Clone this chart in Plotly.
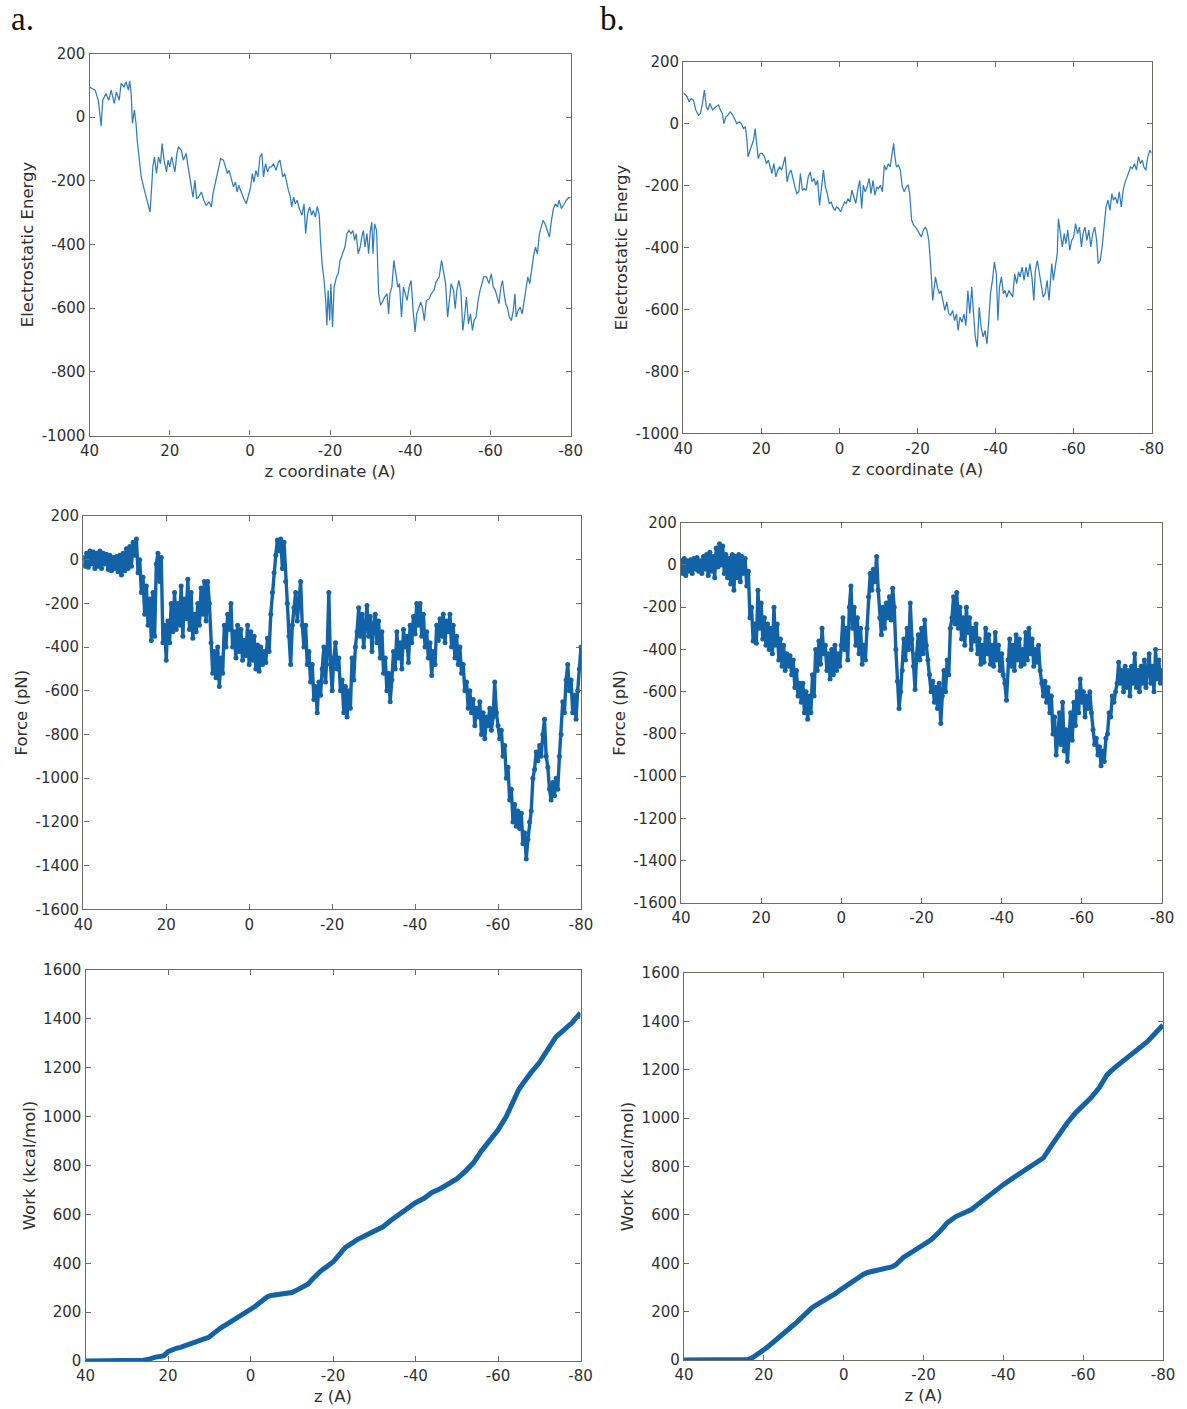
import plotly.graph_objects as go

FIG_W, FIG_H = 1187, 1409

# ---------------------------------------------------------------- data
z_ticks = [40, 20, 0, -20, -40, -60, -80]
energy_ticks = [200, 0, -200, -400, -600, -800, -1000]
force_ticks = [200, 0, -200, -400, -600, -800, -1000, -1200, -1400, -1600]
work_ticks = [0, 200, 400, 600, 800, 1000, 1200, 1400, 1600]

# electrostatic energy along z, run a
elec_a_z = [40.0, 38.6, 37.8, 37.1, 36.7, 35.9, 35.2, 34.6, 33.8, 33.3,
            32.6, 32.1, 31.4, 30.9, 30.3, 30.0, 29.6, 29.3, 28.8, 28.4,
            28.1, 27.6, 27.1, 26.3, 25.7, 24.9, 24.5, 24.2, 23.8, 23.3,
            22.8, 22.3, 21.9, 21.4, 20.8, 20.4, 20.0, 19.5, 18.7, 18.2,
            17.8, 17.1, 16.6, 15.9, 15.4, 14.7, 14.2, 13.7, 13.3, 12.8,
            12.1, 11.5, 10.9, 10.2, 9.6, 9.2, 8.7, 8.0, 7.3, 6.6,
            6.1, 5.6, 5.2, 4.6, 4.1, 3.6, 3.2, 2.8, 2.1, 1.5,
            0.9, 0.4, -0.2, -0.6, -1.0, -1.5, -2.0, -2.5, -3.0, -3.4,
            -3.9, -4.4, -4.9, -5.4, -5.9, -6.5, -7.1, -7.5, -8.2, -8.7,
            -9.2, -9.6, -10.1, -10.4, -10.9, -11.3, -11.8, -12.3, -13.0, -13.5,
            -13.9, -14.4, -14.9, -15.4, -15.8, -16.3, -16.8, -17.3, -17.6, -18.0,
            -18.5, -18.9, -19.2, -19.5, -19.9, -20.2, -20.6, -21.0, -21.6, -22.0,
            -22.5, -23.2, -23.7, -24.2, -24.7, -25.2, -25.7, -26.1, -26.5, -27.0,
            -27.5, -27.9, -28.3, -28.7, -29.2, -29.6, -30.0, -30.4, -30.7, -31.1,
            -31.6, -32.1, -32.6, -33.0, -33.6, -34.2, -34.6, -34.9, -35.4, -35.9,
            -36.4, -36.9, -37.3, -37.8, -38.3, -38.8, -39.2, -39.7, -40.2, -40.7,
            -41.2, -41.6, -42.1, -42.6, -43.0, -43.5, -44.0, -44.7, -45.2, -45.9,
            -46.4, -47.2, -47.8, -48.3, -48.8, -49.3, -49.7, -50.2, -50.8, -51.2,
            -51.6, -52.1, -52.6, -53.1, -53.6, -54.0, -54.5, -55.0, -55.5, -55.9,
            -56.4, -56.9, -57.4, -57.9, -58.3, -59.0, -59.6, -60.2, -60.7, -61.2,
            -61.7, -62.1, -62.6, -63.0, -63.4, -63.8, -64.2, -64.7, -65.2, -65.7,
            -66.1, -66.4, -66.9, -67.4, -67.9, -68.4, -68.8, -69.3, -69.8, -70.3,
            -70.7, -71.2, -71.7, -72.2, -72.6, -73.1, -73.6, -74.1, -74.7, -75.2,
            -75.7, -76.2, -76.7, -77.1, -77.7, -78.4, -78.9, -79.5, -80.0]
elec_a_e = [95, 85, 53, -28, 53, 74, 53, 85, 43, 79,
            53, 106, 95, 111, 85, 114, 74, -20, 22, -20,
            -73, -135, -188, -230, -261, -298, -219, -156, -125, -177,
            -125, -146, -83, -135, -172, -135, -156, -125, -172, -114,
            -93, -104, -135, -114, -156, -219, -251, -198, -256, -251,
            -235, -261, -277, -266, -282, -240, -209, -177, -130, -135,
            -156, -177, -167, -198, -219, -204, -235, -214, -240, -256,
            -272, -245, -219, -177, -204, -167, -188, -125, -114, -188,
            -146, -172, -156, -156, -146, -167, -141, -135, -188, -177,
            -214, -230, -251, -282, -251, -272, -261, -287, -308, -272,
            -366, -303, -282, -308, -293, -314, -280, -308, -387, -460,
            -513, -576, -654, -544, -639, -523, -660, -534, -502, -492,
            -450, -429, -408, -366, -356, -366, -356, -387, -366, -429,
            -408, -377, -356, -408, -366, -429, -361, -330, -429, -335,
            -356, -555, -591, -581, -565, -555, -618, -555, -534, -450,
            -492, -534, -523, -628, -534, -555, -576, -534, -513, -607,
            -675, -618, -597, -581, -597, -639, -576, -571, -555, -544,
            -518, -502, -450, -481, -523, -628, -576, -523, -544, -602,
            -544, -513, -544, -670, -618, -565, -649, -618, -670, -639,
            -628, -576, -544, -523, -502, -502, -523, -492, -534, -544,
            -565, -586, -534, -513, -555, -586, -597, -628, -639, -607,
            -555, -628, -607, -597, -618, -576, -555, -502, -523, -471,
            -439, -408, -429, -366, -345, -324, -335, -356, -377, -324,
            -287, -272, -282, -261, -287, -272, -261, -253, -253]

# electrostatic energy along z, run b
elec_b_z = [40.0,
            39.8, 39.0, 38.5, 38.0, 37.4, 36.8, 36.1, 35.6, 35.1, 34.6,
            34.1, 33.7, 33.2, 32.5, 31.7, 31.0, 30.5, 30.0, 29.6, 29.1,
            28.6, 28.0, 27.3, 26.8, 26.3, 25.7, 25.1, 24.6, 24.1, 23.7,
            23.4, 22.9, 22.4, 22.0, 21.6, 21.2, 20.8, 20.3, 19.8, 19.2,
            18.7, 18.2, 17.8, 17.3, 16.8, 16.3, 15.8, 15.3, 14.8, 14.3,
            13.9, 13.4, 12.9, 12.4, 11.9, 11.4, 10.9, 10.4, 10.0, 9.5,
            9.0, 8.5, 8.0, 7.5, 7.0, 6.5, 6.05, 5.6, 5.1, 4.6,
            4.1, 3.6, 3.1, 2.6, 2.1, 1.7, 1.2, 0.7, 0.2, -0.3,
            -0.8, -1.3, -1.75, -2.2, -2.7, -3.2, -3.7, -4.2, -4.7, -5.2,
            -5.7, -6.1, -6.6, -7.1, -7.6, -8.1, -8.6, -9.1, -9.6, -10.0,
            -10.5, -11.0, -11.5, -12.0, -12.5, -13.0, -13.5, -13.9, -14.1, -14.6,
            -15.1, -15.6, -16.1, -16.6, -17.1, -17.6, -18.0, -18.5, -19.0, -19.5,
            -20.0, -20.5, -21.0, -21.5, -22.0, -22.4, -22.9, -23.4, -23.9, -24.2,
            -24.6, -25.1, -25.6, -26.0, -26.5, -27.0, -27.5, -28.0, -28.5, -29.0,
            -29.5, -30.0, -30.4, -30.9, -31.4, -31.9, -32.4, -32.9, -33.4, -33.9,
            -34.3, -34.8, -35.3, -35.8, -36.3, -36.8, -37.3, -37.8, -38.2, -38.7,
            -39.2, -39.7, -40.2, -40.6, -41.0, -41.5, -42.0, -42.4, -42.9, -43.4,
            -43.9, -44.4, -44.9, -45.4, -45.9, -46.3, -46.8, -47.3, -47.8, -48.3,
            -48.8, -49.3, -49.8, -50.2, -50.7, -51.2, -51.7, -52.2, -52.7, -53.2,
            -53.7, -54.1, -54.4, -54.8, -55.3, -55.8, -56.1, -56.6, -57.1, -57.6,
            -58.0, -58.5, -59.0, -59.5, -60.0, -60.5, -61.0, -61.5, -62.0, -62.4,
            -62.9, -63.4, -63.9, -64.4, -64.9, -65.4, -65.9, -66.3, -66.8, -67.3,
            -67.8, -68.3, -68.8, -69.3, -69.8, -70.2, -70.7, -71.2, -71.7, -72.2,
            -72.7, -73.2, -73.7, -74.1, -74.6, -75.1, -75.6, -76.1, -76.6, -77.1,
            -77.6, -78.0, -78.5, -79.0, -79.5, -80.0]
elec_b_e = [100,
            98, 87, 71, 81, 76, 44, 27, 33, 65, 108,
            54, 44, 65, 44, 54, 60, 44, 33, 0, 22,
            27, 38, 27, 11, 0, 6, 0, -16, -10, -53,
            -107, -86, -64, -53, -16, -75, -113, -96, -96, -107,
            -129, -118, -140, -161, -129, -172, -150, -140, -150, -129,
            -107, -188, -161, -150, -183, -204, -226, -220, -161, -215,
            -210, -215, -172, -156, -188, -177, -199, -183, -264, -204,
            -150, -204, -226, -258, -253, -269, -280, -269, -274, -285,
            -269, -253, -258, -242, -253, -215, -237, -258, -215, -183,
            -274, -199, -220, -204, -177, -226, -183, -231, -204, -210,
            -199, -220, -134, -150, -129, -140, -96, -64, -96, -140,
            -134, -150, -204, -220, -204, -199, -226, -312, -328, -334,
            -344, -355, -366, -344, -334, -344, -377, -463, -571, -539,
            -495, -528, -549, -539, -571, -603, -576, -614, -619, -603,
            -636, -614, -668, -625, -641, -614, -652, -539, -614, -528,
            -603, -689, -722, -593, -657, -689, -668, -711, -646, -549,
            -506, -447, -485, -636, -528, -495, -549, -539, -560, -539,
            -549, -560, -485, -517, -479, -495, -463, -506, -463, -495,
            -452, -495, -571, -474, -442, -485, -528, -560, -549, -506,
            -571, -517, -452, -506, -463, -420, -307, -355, -398, -355,
            -388, -344, -409, -377, -366, -323, -355, -334, -398, -355,
            -334, -377, -344, -398, -355, -334, -377, -452, -442, -398,
            -334, -269, -247, -280, -226, -247, -237, -258, -220, -269,
            -215, -188, -172, -156, -140, -145, -129, -150, -107, -129,
            -118, -140, -150, -107, -86, -96]

# pulling force, sampled every 0.4 A from z = 40 down to z = -80
force_z_start = 40.0
force_z_step = -0.4
force_a = [10, -30, 30, -35, 40, -20, 35, -40, 30, -30,
           40, -40, 30, -20, 25, -45, 20, -50, 10, -40,
           15, -55, 20, -70, 30, -50, 50, -40, 60, -30,
           80, 20, 95, -60, 0, -150, -80, -250, -120, -300,
           -180, -370, -150, -350, -20, 30, -100, 10, -380, -300,
           -460, -280, -380, -200, -330, -150, -320, -200, -300, -120,
           -350, -180, -270, -90, -320, -150, -360, -250, -330, -200,
           -300, -130, -250, -100, -280, -100, -200, -380, -520, -420,
           -540, -400, -580, -450, -520, -300, -400, -250, -320, -200,
           -400, -330, -450, -300, -420, -320, -460, -370, -440, -300,
           -480, -330, -460, -350, -500, -390, -510, -400, -480, -420,
           -470, -360, -420, -250, -150, -60, 20, 90, 40, 95,
           -40, 80, -100, -200, -350, -480, -300, -220, -150, -280,
           -200, -100, -300, -400, -300, -480, -420, -560, -480, -640,
           -580, -700, -560, -620, -500, -400, -560, -420, -150, -480,
           -600, -450, -380, -500, -450, -600, -550, -700, -580, -720,
           -600, -680, -450, -550, -400, -330, -220, -350, -250, -400,
           -300, -210, -350, -260, -420, -300, -250, -380, -280, -450,
           -330, -520, -450, -600, -520, -650, -550, -420, -500, -330,
           -450, -380, -500, -320, -400, -350, -470, -300, -380, -260,
           -340, -200, -300, -200, -350, -250, -400, -330, -450, -380,
           -530, -420, -480, -300, -370, -270, -350, -250, -380, -280,
           -330, -250, -400, -300, -450, -350, -480, -400, -520, -480,
           -600, -560, -680, -600, -700, -640, -760, -680, -720, -650,
           -800, -700, -820, -720, -760, -680, -780, -720, -560, -700,
           -760, -820, -780, -900, -850, -1000, -950, -1100, -1050, -1200,
           -1120, -1220, -1150, -1230, -1160, -1300, -1250, -1370, -1280, -1200,
           -1150, -1000, -960, -880, -920, -850, -900, -800, -730, -900,
           -950, -1050, -1100, -1020, -1080, -1000, -1050, -900, -800, -650,
           -700, -550, -480, -600, -550, -700, -620, -730, -600, -500,
           -400]
force_b = [20, -40, 30, -50, 20, -30, 25, -40, 30, -20,
           35, -30, 20, -40, 40, -20, 50, -50, 60, -30,
           40, -60, 80, -10, 100, 0, 90, -40, 50, -60,
           30, -90, 50, -120, 40, -60, 50, -80, 40, -40,
           30, -100, -30, -250, -200, -360, -280, -370, -120, -300,
           -180, -350, -250, -380, -280, -400, -300, -420, -200, -380,
           -280, -450, -350, -480, -380, -500, -420, -480, -430, -520,
           -450, -580, -500, -620, -560, -650, -560, -700, -600, -730,
           -620, -700, -520, -620, -400, -500, -360, -470, -300, -420,
           -380, -500, -420, -540, -400, -520, -380, -500, -420, -480,
           -380, -250, -400, -300, -450, -200, -100, -300, -200, -380,
           -250, -420, -300, -470, -380, -450, -300, -150, -40, -120,
           -20, -80, 40, -120, -250, -330, -200, -300, -180, -250,
           -150, -260, -110, -200, -400, -550, -680, -600, -500, -350,
           -450, -300, -400, -180, -350, -480, -590, -420, -330, -450,
           -300, -420, -260, -380, -450, -520, -600, -550, -650, -580,
           -680, -560, -750, -620, -500, -600, -450, -520, -300, -250,
           -150, -280, -130, -300, -200, -350, -250, -380, -200, -320,
           -250, -400, -300, -360, -280, -420, -350, -470, -380, -460,
           -300, -420, -330, -470, -380, -480, -320, -450, -380, -500,
           -420, -520, -560, -640, -450, -350, -480, -380, -500, -330,
           -450, -350, -480, -400, -470, -320, -450, -300, -420, -350,
           -480, -400, -460, -380, -500, -560, -620, -550, -650, -580,
           -700, -620, -800, -720, -900, -820, -700, -850, -650, -880,
           -780, -930, -800, -700, -830, -650, -760, -600, -700, -540,
           -650, -600, -720, -620, -680, -600, -700, -780, -850, -820,
           -900, -860, -950, -880, -930, -820, -800, -700, -720, -620,
           -650, -600, -560, -460, -560, -500, -600, -480, -580, -500,
           -620, -480, -560, -420, -580, -500, -600, -480, -560, -450,
           -580, -500, -420, -560, -480, -600, -400, -540, -450, -560,
           -500]

# accumulated work
work_a_z = [40, 36, 32, 28,
            26, 25, 24, 23, 22, 21, 20, 19, 18, 17,
            16, 15, 14, 13, 12, 11, 10, 9, 8, 7,
            6, 5, 4, 3, 2, 1, 0, -1, -2, -3,
            -4, -5, -6, -7, -8, -9, -10, -11, -12, -13,
            -14, -15, -16, -17, -18, -19, -20, -21, -22, -23,
            -24, -25, -26,
            -28, -30, -32, -34, -36, -38, -40, -42, -44, -46,
            -48, -50, -52, -54, -56, -58, -60, -62, -64,
            -65, -66, -67, -68,
            -70, -72, -74, -76, -78, -80]
work_a_w = [0, 0, 0, 1,
            3, 6, 12, 16, 18, 22, 38, 46, 52, 56,
            62, 70, 76, 82, 88, 94, 98, 112, 128, 138,
            148, 158, 168, 178, 188, 198, 210, 222, 235, 250,
            262, 268, 270, 270, 272, 275, 280, 288, 296, 302,
            315, 335, 355, 368, 380, 392, 405, 425, 445, 465,
            475, 488, 498,
            515, 530, 548, 575, 600, 625, 648, 665, 690, 705,
            725, 745, 775, 810, 860, 900, 945, 1000, 1080,
            1110, 1135, 1160, 1180,
            1220, 1270, 1325, 1355, 1385, 1425]

work_b_z = [40, 36, 32, 28, 25,
            24, 23, 22, 21, 20, 19, 18, 17, 16, 15,
            14, 13, 12, 11, 10, 9, 8, 7, 6, 5,
            4, 3, 2, 1, 0, -1, -2, -3, -4, -5,
            -6, -7, -8, -9, -10, -11, -12, -13, -14, -15,
            -16, -17, -18, -19, -20, -21, -22,
            -24, -26, -28, -30, -32, -34, -36, -38, -40, -42,
            -44, -46, -48, -50, -52, -54, -56, -58, -60, -62,
            -64, -66, -68, -70, -72, -74, -76, -78, -80]
work_b_w = [0, 0, 0, 0, 0,
            2, 8, 18, 28, 42, 55, 68, 82, 96, 110,
            125, 138, 152, 168, 185, 202, 215, 226, 235, 245,
            255, 263, 275, 288, 300, 312, 322, 332, 344, 355,
            362, 366, 367, 370, 373, 378, 385, 393, 410, 425,
            435, 445, 455, 466, 476, 485, 498,
            530, 568, 592, 607, 622, 648, 675, 700, 725, 748,
            770, 790, 810, 835, 885, 935, 980, 1020, 1050, 1085,
            1125, 1180, 1210, 1235, 1260, 1285, 1315, 1350, 1385]

force_z_a = [force_z_start + i * force_z_step for i in range(len(force_a))]
force_z_b = [force_z_start + i * force_z_step for i in range(len(force_b))]

# ---------------------------------------------------------------- style
FRAME = "#6c6c64"
TEXT = "#303030"
THIN_BLUE = "#2f7dbd"
BAND_BLUE = "#1262a8"
TICK_FONT = dict(family="DejaVu Sans", size=15, color=TEXT)
TITLE_FONT = dict(family="DejaVu Sans", size=16.5, color=TEXT)

# panel boxes in pixels: left, top, right, bottom
panels = [
    (89.5, 53.5, 570.7, 435.5),     # a: energy
    (683.3, 61.7, 1151.7, 433.3),   # b: energy
    (83.3, 516.0, 581.0, 909.3),    # a: force
    (681.0, 522.7, 1162.0, 903.0),  # b: force
    (85.5, 970.0, 580.5, 1361.0),   # a: work
    (684.0, 973.0, 1163.0, 1360.0), # b: work
]

fig = go.Figure()

series = [
    (elec_a_z, elec_a_e, "thin"),
    (elec_b_z, elec_b_e, "thin"),
    (force_z_a, force_a, "band"),
    (force_z_b, force_b, "band"),
    (work_a_z, work_a_w, "thick"),
    (work_b_z, work_b_w, "thick"),
]

for i, (xs, ys, kind) in enumerate(series):
    n = i + 1
    if kind == "thin":
        line = dict(color=THIN_BLUE, width=1.25)
        mode = "lines"
        marker = None
    elif kind == "band":
        line = dict(color=BAND_BLUE, width=3.4)
        mode = "lines+markers"
        marker = dict(color=BAND_BLUE, size=5, symbol="circle")
    else:
        line = dict(color=BAND_BLUE, width=5)
        mode = "lines"
        marker = None
    fig.add_trace(go.Scatter(
        x=xs, y=ys, mode=mode, line=line, marker=marker,
        xaxis="x" if n == 1 else f"x{n}",
        yaxis="y" if n == 1 else f"y{n}",
        showlegend=False, hoverinfo="x+y",
    ))

y_specs = [
    (energy_ticks, [-1000, 200], "Electrostatic Energy"),
    (energy_ticks, [-1000, 200], "Electrostatic Energy"),
    (force_ticks, [-1600, 200], "Force (pN)"),
    (force_ticks, [-1600, 200], "Force (pN)"),
    (work_ticks, [0, 1600], "Work (kcal/mol)"),
    (work_ticks, [0, 1600], "Work (kcal/mol)"),
]
x_titles = ["z coordinate (A)", "z coordinate (A)", "", "", "z (A)", "z (A)"]

common = dict(
    showline=True, linecolor=FRAME, linewidth=1.4, mirror="ticks",
    ticks="inside", ticklen=5, tickwidth=1.2, tickcolor=FRAME,
    showgrid=False, zeroline=False, tickfont=TICK_FONT,
    automargin=False,
)

layout = {}
for i, (l, t, r, b) in enumerate(panels):
    n = i + 1
    xkey = "xaxis" if n == 1 else f"xaxis{n}"
    ykey = "yaxis" if n == 1 else f"yaxis{n}"
    yticks, yrange, ytitle = y_specs[i]
    layout[xkey] = dict(
        common,
        domain=[l / FIG_W, r / FIG_W],
        anchor="y" if n == 1 else f"y{n}",
        range=[40, -80], autorange=False,
        tickmode="array", tickvals=z_ticks, ticktext=[str(v) for v in z_ticks],
        ticklabelstandoff=1,
        title=dict(text=x_titles[i], font=TITLE_FONT, standoff=6),
    )
    layout[ykey] = dict(
        common,
        domain=[1 - b / FIG_H, 1 - t / FIG_H],
        anchor="x" if n == 1 else f"x{n}",
        range=yrange, autorange=False,
        tickmode="array", tickvals=yticks, ticktext=[str(v) for v in yticks],
        ticklabelstandoff=0,
        title=dict(text=ytitle, font=TITLE_FONT, standoff=3),
    )

fig.update_layout(
    width=FIG_W, height=FIG_H, autosize=False,
    margin=dict(l=0, r=0, t=0, b=0, pad=0),
    paper_bgcolor="white", plot_bgcolor="white",
    **layout,
)

# panel letters
for letter, px in (("a.", 9), ("b.", 598)):
    fig.add_annotation(
        text=letter, x=px / FIG_W, y=1 + 1 / FIG_H, xref="paper", yref="paper",
        xanchor="left", yanchor="top", showarrow=False,
        font=dict(family="Liberation Serif", size=33, color="#111111"),
    )

fig.write_html("out.html")
